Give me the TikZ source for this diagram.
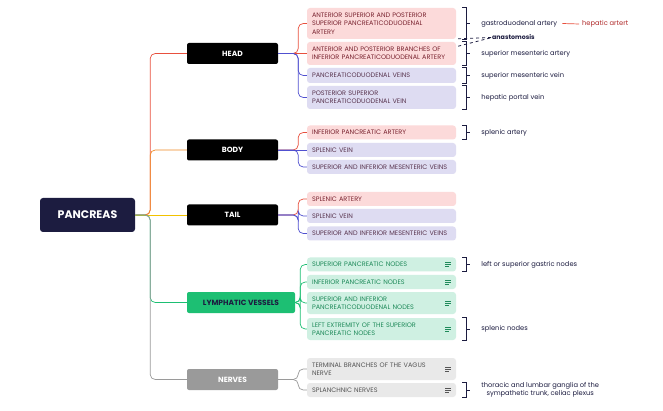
\documentclass[tikz,border=0pt]{standalone}
\usepackage{fontspec}
\setmainfont{Poppins}
\usetikzlibrary{calc}
\begin{document}
\begin{tikzpicture}[x=1pt,y=-1pt,
 cat/.style={rounded corners=2pt,minimum width=91pt,minimum height=21pt,text=white,font=\fontsize{7.5}{9}\selectfont\bfseries,inner sep=0pt},
 leaf/.style={rounded corners=3pt,minimum width=149pt,text width=139pt,align=left,inner sep=0pt,font=\fontsize{6.5}{8.4}\selectfont},
 pk/.style={leaf,fill=pinkf,text=pinkt},
 lv/.style={leaf,fill=lavf,text=lavt},
 gr/.style={leaf,fill=grnf,text=grnt},
 gy/.style={leaf,fill=grayf,text=grayt},
 con/.style={line width=0.7pt,rounded corners=5pt},
 br/.style={line width=0.9pt,draw=brk},
 lab/.style={anchor=west,font=\fontsize{6.7}{8.2}\selectfont,text=brk,inner sep=0pt},
 ico/.style={line width=0.6pt}]
\definecolor{pinkf}{HTML}{FCDADA}\definecolor{pinkt}{HTML}{7A2430}
\definecolor{lavf}{HTML}{DEDCF2}\definecolor{lavt}{HTML}{5A3650}
\definecolor{grnf}{HTML}{CFF0E2}\definecolor{grnt}{HTML}{1F8A5A}
\definecolor{grayf}{HTML}{E9E9E9}\definecolor{grayt}{HTML}{555555}
\definecolor{brk}{HTML}{1C1C40}
\definecolor{cred}{HTML}{E8503E}\definecolor{cblue}{HTML}{5050D0}
\definecolor{corange}{HTML}{F08A24}\definecolor{cyel}{HTML}{F2C200}
\definecolor{cgreen}{HTML}{1DBF73}\definecolor{cgray}{HTML}{9A9A9A}
\definecolor{hred}{HTML}{B02A2A}
\useasboundingbox[fill=white] (0,0) rectangle (663,411);
\node[fill=brk,rounded corners=3pt,minimum width=95pt,minimum height=34pt,text=white,font=\fontsize{11}{13}\selectfont\bfseries] (pan) at (87.5,215) {PANCREAS};
\node[cat,fill=black] (head) at (232.5,53.5) {HEAD};
\node[cat,fill=black] (body) at (232.5,150) {BODY};
\node[cat,fill=black] (tail) at (232.5,215) {TAIL};
\node[cat,fill=cgreen,minimum width=108pt,text=brk] (lym) at (241,302.5) {LYMPHATIC VESSELS};
\node[cat,fill=cgray] (ner) at (232.5,379.5) {NERVES};
\draw[con,cred] (pan.east) -- ++(15,0) |- (head.west);
\draw[con,corange] (pan.east) -- ++(15,0) |- (body.west);
\draw[con,cyel] (pan.east) -- (tail.west);
\draw[con,cgreen] (pan.east) -- ++(15,0) |- (lym.west);
\draw[con,cgray] (pan.east) -- ++(15,0) |- (ner.west);
% head leaves
\node[pk,minimum height=31pt] (h1) at (381.5,23.5) {ANTERIOR SUPERIOR AND POSTERIOR\\SUPERIOR PANCREATICODUODENAL\\ARTERY};
\node[pk,minimum height=23pt] (h2) at (381.5,53.5) {ANTERIOR AND POSTERIOR BRANCHES OF INFERIOR PANCREATICODUODENAL ARTERY};
\node[lv,minimum height=15pt] (h3) at (381.5,75.5) {PANCREATICODUODENAL VEINS};
\node[lv,minimum height=23pt] (h4) at (381.5,97.5) {POSTERIOR SUPERIOR\\PANCREATICODUODENAL VEIN};
\draw[con,cred] (head.east) -- ++(20,0) |- (h1.west);
\draw[con,cred] (head.east) -- (h2.west);
\draw[con,cblue] (head.east) -- ++(20,0) |- (h3.west);
\draw[con,cblue] (head.east) -- ++(20,0) |- (h4.west);
% body
\node[pk,minimum height=14pt] (b1) at (381.5,132.5) {INFERIOR PANCREATIC ARTERY};
\node[lv,minimum height=14pt] (b2) at (381.5,150) {SPLENIC VEIN};
\node[lv,minimum height=14pt] (b3) at (381.5,167) {SUPERIOR AND INFERIOR MESENTERIC VEINS};
\draw[con,cred] (body.east) -- ++(20,0) |- (b1.west);
\draw[con,cblue] (body.east) -- (b2.west);
\draw[con,cblue] (body.east) -- ++(20,0) |- (b3.west);
% tail
\node[pk,minimum height=14pt] (t1) at (381.5,199) {SPLENIC ARTERY};
\node[lv,minimum height=14pt] (t2) at (381.5,216) {SPLENIC VEIN};
\node[lv,minimum height=14pt] (t3) at (381.5,233.5) {SUPERIOR AND INFERIOR MESENTERIC VEINS};
\draw[con,cred] (tail.east) -- ++(20,0) |- (t1.west);
\draw[con,cblue] (tail.east) -- ++(20,0) |- (t2.west);
\draw[con,cblue] (tail.east) -- ++(20,0) |- (t3.west);
% lymph
\node[gr,minimum height=14pt] (l1) at (381.5,264.5) {SUPERIOR PANCREATIC NODES};
\node[gr,minimum height=14pt] (l2) at (381.5,282) {INFERIOR PANCREATIC NODES};
\node[gr,minimum height=22pt] (l3) at (381.5,303) {SUPERIOR AND INFERIOR\\PANCREATICODUODENAL NODES};
\node[gr,minimum height=22pt] (l4) at (381.5,329) {LEFT EXTREMITY OF THE SUPERIOR\\PANCREATIC NODES};
\foreach \n in {l1,l2,l3,l4}{\draw[con,cgreen] (lym.east) -- ++(5,0) |- (\n.west);
 \draw[ico,grnt] ([xshift=-11pt,yshift=2pt]\n.east) -- ++(6,0) ([xshift=-11pt]\n.east) -- ++(6,0) ([xshift=-11pt,yshift=-2pt]\n.east) -- ++(4,0);}
% nerves
\node[gy,minimum height=22pt] (n1) at (381.5,369) {TERMINAL BRANCHES OF THE VAGUS\\NERVE};
\node[gy,minimum height=14pt] (n2) at (381.5,390) {SPLANCHNIC NERVES};
\foreach \n in {n1,n2}{\draw[con,cgray] (ner.east) -- ++(20,0) |- (\n.west);
 \draw[ico,grayt] ([xshift=-11pt,yshift=2pt]\n.east) -- ++(6,0) ([xshift=-11pt]\n.east) -- ++(6,0) ([xshift=-11pt,yshift=-2pt]\n.east) -- ++(4,0);}
% brackets
\newcommand\mybrk[3]{\draw[br] ([xshift=6pt]#1.north east) -- ++(4,0) |- ([xshift=6pt]#1.south east);
 \coordinate (bm) at ($([xshift=10pt]#1.north east)!0.5!([xshift=10pt]#1.south east)$);
 \draw[br] (bm) -- ++(4,0);
 \node[lab] (#2) at ([xshift=15pt]bm) {#3};}
\mybrk{h1}{g1}{gastroduodenal artery}
\mybrk{h2}{g2}{superior mesenteric artery}
\mybrk{h3}{g3}{superior mesenteric vein}
\mybrk{h4}{g4}{hepatic portal vein}
\mybrk{b1}{g5}{splenic artery}
\mybrk{l1}{g6}{left or superior gastric nodes}
\mybrk{l4}{g7}{splenic nodes}
\draw[br] ([xshift=6pt]n2.north east) -- ++(4,0) |- ([xshift=6pt]n2.south east);
\coordinate (bm) at ($([xshift=10pt]n2.north east)!0.5!([xshift=10pt]n2.south east)$);
\draw[br] (bm) -- ++(4,0);
\node[lab,align=center] (tl) at ([xshift=15pt]bm) {thoracic and lumbar ganglia of the\\sympathetic trunk, celiac plexus};
\node[lab,text=hred] (ha) at (582,24) {hepatic artert};
\draw[line width=0.7pt,cred] ([xshift=5pt]g1.east) -- ([xshift=-3pt]ha.west);
\node[lab,font=\fontsize{6.3}{8}\selectfont\bfseries] (an) at (492,37.5) {anastomosis};
\draw[br,dashed,line width=0.8pt] ([xshift=2pt,yshift=-7pt]h1.south east) -- (an.west);
\draw[br,dashed,line width=0.8pt] ([xshift=2pt,yshift=3pt]h2.north east) -- (an.west);
\end{tikzpicture}
\end{document}
